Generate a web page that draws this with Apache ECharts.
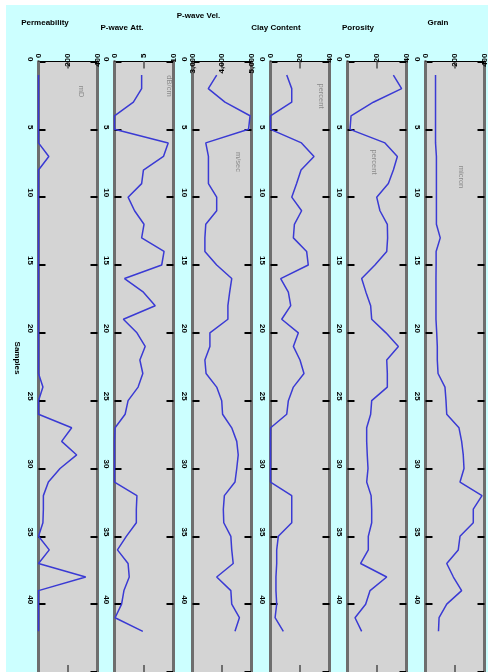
<!DOCTYPE html>
<html><head><meta charset="utf-8">
<script src="https://cdn.jsdelivr.net/npm/echarts@6/dist/echarts.min.js"></script>
<style>
html,body{margin:0;padding:0;background:#ffffff;width:488px;height:672px;overflow:hidden}
#bg{position:absolute;left:6px;top:5px;width:482px;height:667px;background:#ccffff}
#chart{position:absolute;left:0;top:0;width:488px;height:672px}
</style></head>
<body><div id="bg"></div><div id="chart"></div>
<script>
// ---- data ----
const samples = [1,2,3,4,5,6,7,8,9,10,11,12,13,14,15,16,17,18,19,20,21,22,23,24,25,26,27,28,29,30,31,32,33,34,35,36,37,38,39,40,41,42];
const permeability = [0,0,0,0,0,0,70,0,0,0,0,0,0,0,0,0,0,0,0,0,0,0,0,30,0,0,225,157,259,146,67,33,33,30,0,73,0,320,0,0,0,0];
const pwaveAtt = [4.6,4.6,3.2,0,0,9.1,8.3,4.9,4.6,2.3,3.4,5.0,4.6,8.4,8.0,1.7,4.9,6.9,1.5,3.8,5.2,4.3,4.8,4.0,2.3,1.8,0.1,0,0,0,0,3.8,3.7,3.7,2.0,0.5,2.3,2.5,1.6,1.2,0.1,4.8];
const pwaveVel = [3820,3535,4100,4950,4900,3450,3540,3540,3540,3820,3820,3450,3420,3420,3820,4330,4260,4200,4200,3590,3590,3420,3460,3820,3990,4020,4330,4500,4550,4500,4440,4080,4045,4060,4300,4330,4380,3820,4300,4330,4590,4440];
const clayContent = [11.0,14.4,14.4,0,0,21,29.5,20.7,17.7,14.4,21.1,16.2,15.5,24.5,25.6,6.9,12.1,13.7,7.6,18.9,15.5,20,22.7,15.5,12.1,11.0,0.1,0,0,0,0,14.4,14.4,14.4,5.3,4.2,4.2,3.7,3.7,4.2,3.1,8.7];
const porosity = [31.1,36.7,17.5,2.4,1.7,25.4,33.8,31.1,27.7,19.8,22.0,27.0,27.2,26.6,18.6,9.6,12.5,15.7,16.4,26.1,34.5,26.6,27.0,27.0,16.4,15.7,13.0,13.0,13.4,13.9,13.0,16.0,16.4,16.4,14.1,14.1,8.9,26.6,15.3,12.3,5.1,9.6];
const grain = [68,68,68,68,68,68,74,74,74,74,74,74,100,72,72,71,71,71,71,76,80,80,85,132,139,144,227,245,256,261,234,383,324,324,234,222,144,189,245,144,92,88];

const panelTitles = ['Permeability','P-wave Att.','P-wave Vel.','Clay Content','Porosity','Grain'];
const unitLabels = ['mD','dB/cm','m/sec','percent','percent','micron'];
const valueMin = [0,0,3000,0,0,0];
const valueMax = [400,10,5000,40,40,400];
const valueStep = [200,5,1000,20,20,200];
const sampleMin = 0, sampleMax = 45, sampleStep = 5;
const sampleAxisTitle = 'Samples';
const seriesValues = [permeability,pwaveAtt,pwaveVel,clayContent,porosity,grain];

// ---- layout / style ----
const gridLeft = [38.5,114.5,192.5,270.5,347.5,425.5];
const gridWidth = 59, gridTop = 61.5, gridHeight = 610.5;
const titlePos = [[45,23],[122,27.5],[198.5,15.5],[276,27.5],[358,27.5],[438,22.5]];
const unitPos = [[81.5,91.5],[169,86],[238,162],[321,96],[374,162],[461.5,177]];
const FONT = 'Liberation Sans';
const lineColor = '#3a3ad4';
const borderGray = '#6e6e6e';

const grids = [], xAxes = [], yAxes = [], series = [], graphics = [];
for (let i = 0; i < 6; i++) {
  grids.push({left: gridLeft[i], top: gridTop, width: gridWidth, height: gridHeight,
    show: true, backgroundColor: '#d4d4d4', borderWidth: 0, containLabel: false, outerBoundsMode: 'none'});
  const xBase = {type: 'value', gridIndex: i, min: valueMin[i], max: valueMax[i], interval: valueStep[i],
    splitLine: {show: false},
    axisLine: {show: true, onZero: false, lineStyle: {color: '#000', width: 1}},
    axisTick: {show: true, inside: true, length: 7, lineStyle: {color: borderGray, width: 2}}};
  xAxes.push(Object.assign({}, xBase, {position: 'top',
    axisLabel: {show: true, rotate: -90, align: 'right', verticalAlign: 'middle', margin: 8,
      fontSize: 8, fontWeight: 'bold', fontFamily: FONT, color: '#000'}}));
  xAxes.push(Object.assign({}, xBase, {position: 'bottom', axisLabel: {show: false}}));
  const yBase = {type: 'value', gridIndex: i, min: sampleMin, max: sampleMax, interval: sampleStep, inverse: true,
    splitLine: {show: false},
    axisLine: {show: true, onZero: false, lineStyle: {color: borderGray, width: 3}},
    axisTick: {show: true, inside: true, length: 7, lineStyle: {color: '#000', width: 2}}};
  yAxes.push(Object.assign({}, yBase, {position: 'left',
    axisLabel: {show: true, showMaxLabel: false, rotate: -90, align: 'right', verticalAlign: 'middle', margin: 8,
      fontSize: 8, fontWeight: 'bold', fontFamily: FONT, color: '#000'}}));
  yAxes.push(Object.assign({}, yBase, {position: 'right', axisLabel: {show: false}}));
  series.push({type: 'line', xAxisIndex: 2*i, yAxisIndex: 2*i, symbol: 'none', silent: true,
    lineStyle: {color: lineColor, width: 1.5}, itemStyle: {color: lineColor},
    data: samples.map((s, k) => [seriesValues[i][k], s])});
  graphics.push({type: 'text', x: titlePos[i][0], y: titlePos[i][1], silent: true,
    style: {text: panelTitles[i], font: 'bold 8px ' + FONT, fill: '#000',
      align: 'center', verticalAlign: 'middle', textAlign: 'center', textVerticalAlign: 'middle'}});
  graphics.push({type: 'text', x: unitPos[i][0], y: unitPos[i][1], rotation: -Math.PI/2, silent: true, z: 10,
    style: {text: unitLabels[i], font: '7.5px ' + FONT, fill: '#8a8a8a',
      align: 'center', verticalAlign: 'middle', textAlign: 'center', textVerticalAlign: 'middle'}});
}
graphics.push({type: 'text', x: 17, y: 358, rotation: -Math.PI/2, silent: true,
  style: {text: sampleAxisTitle, font: 'bold 8px ' + FONT, fill: '#000',
    align: 'center', verticalAlign: 'middle', textAlign: 'center', textVerticalAlign: 'middle'}});

const chart = echarts.init(document.getElementById('chart'), null, {renderer: 'canvas'});
chart.setOption({
  animation: false,
  backgroundColor: 'transparent',
  grid: grids, xAxis: xAxes, yAxis: yAxes, series: series, graphic: graphics
});
</script>
</body></html>
